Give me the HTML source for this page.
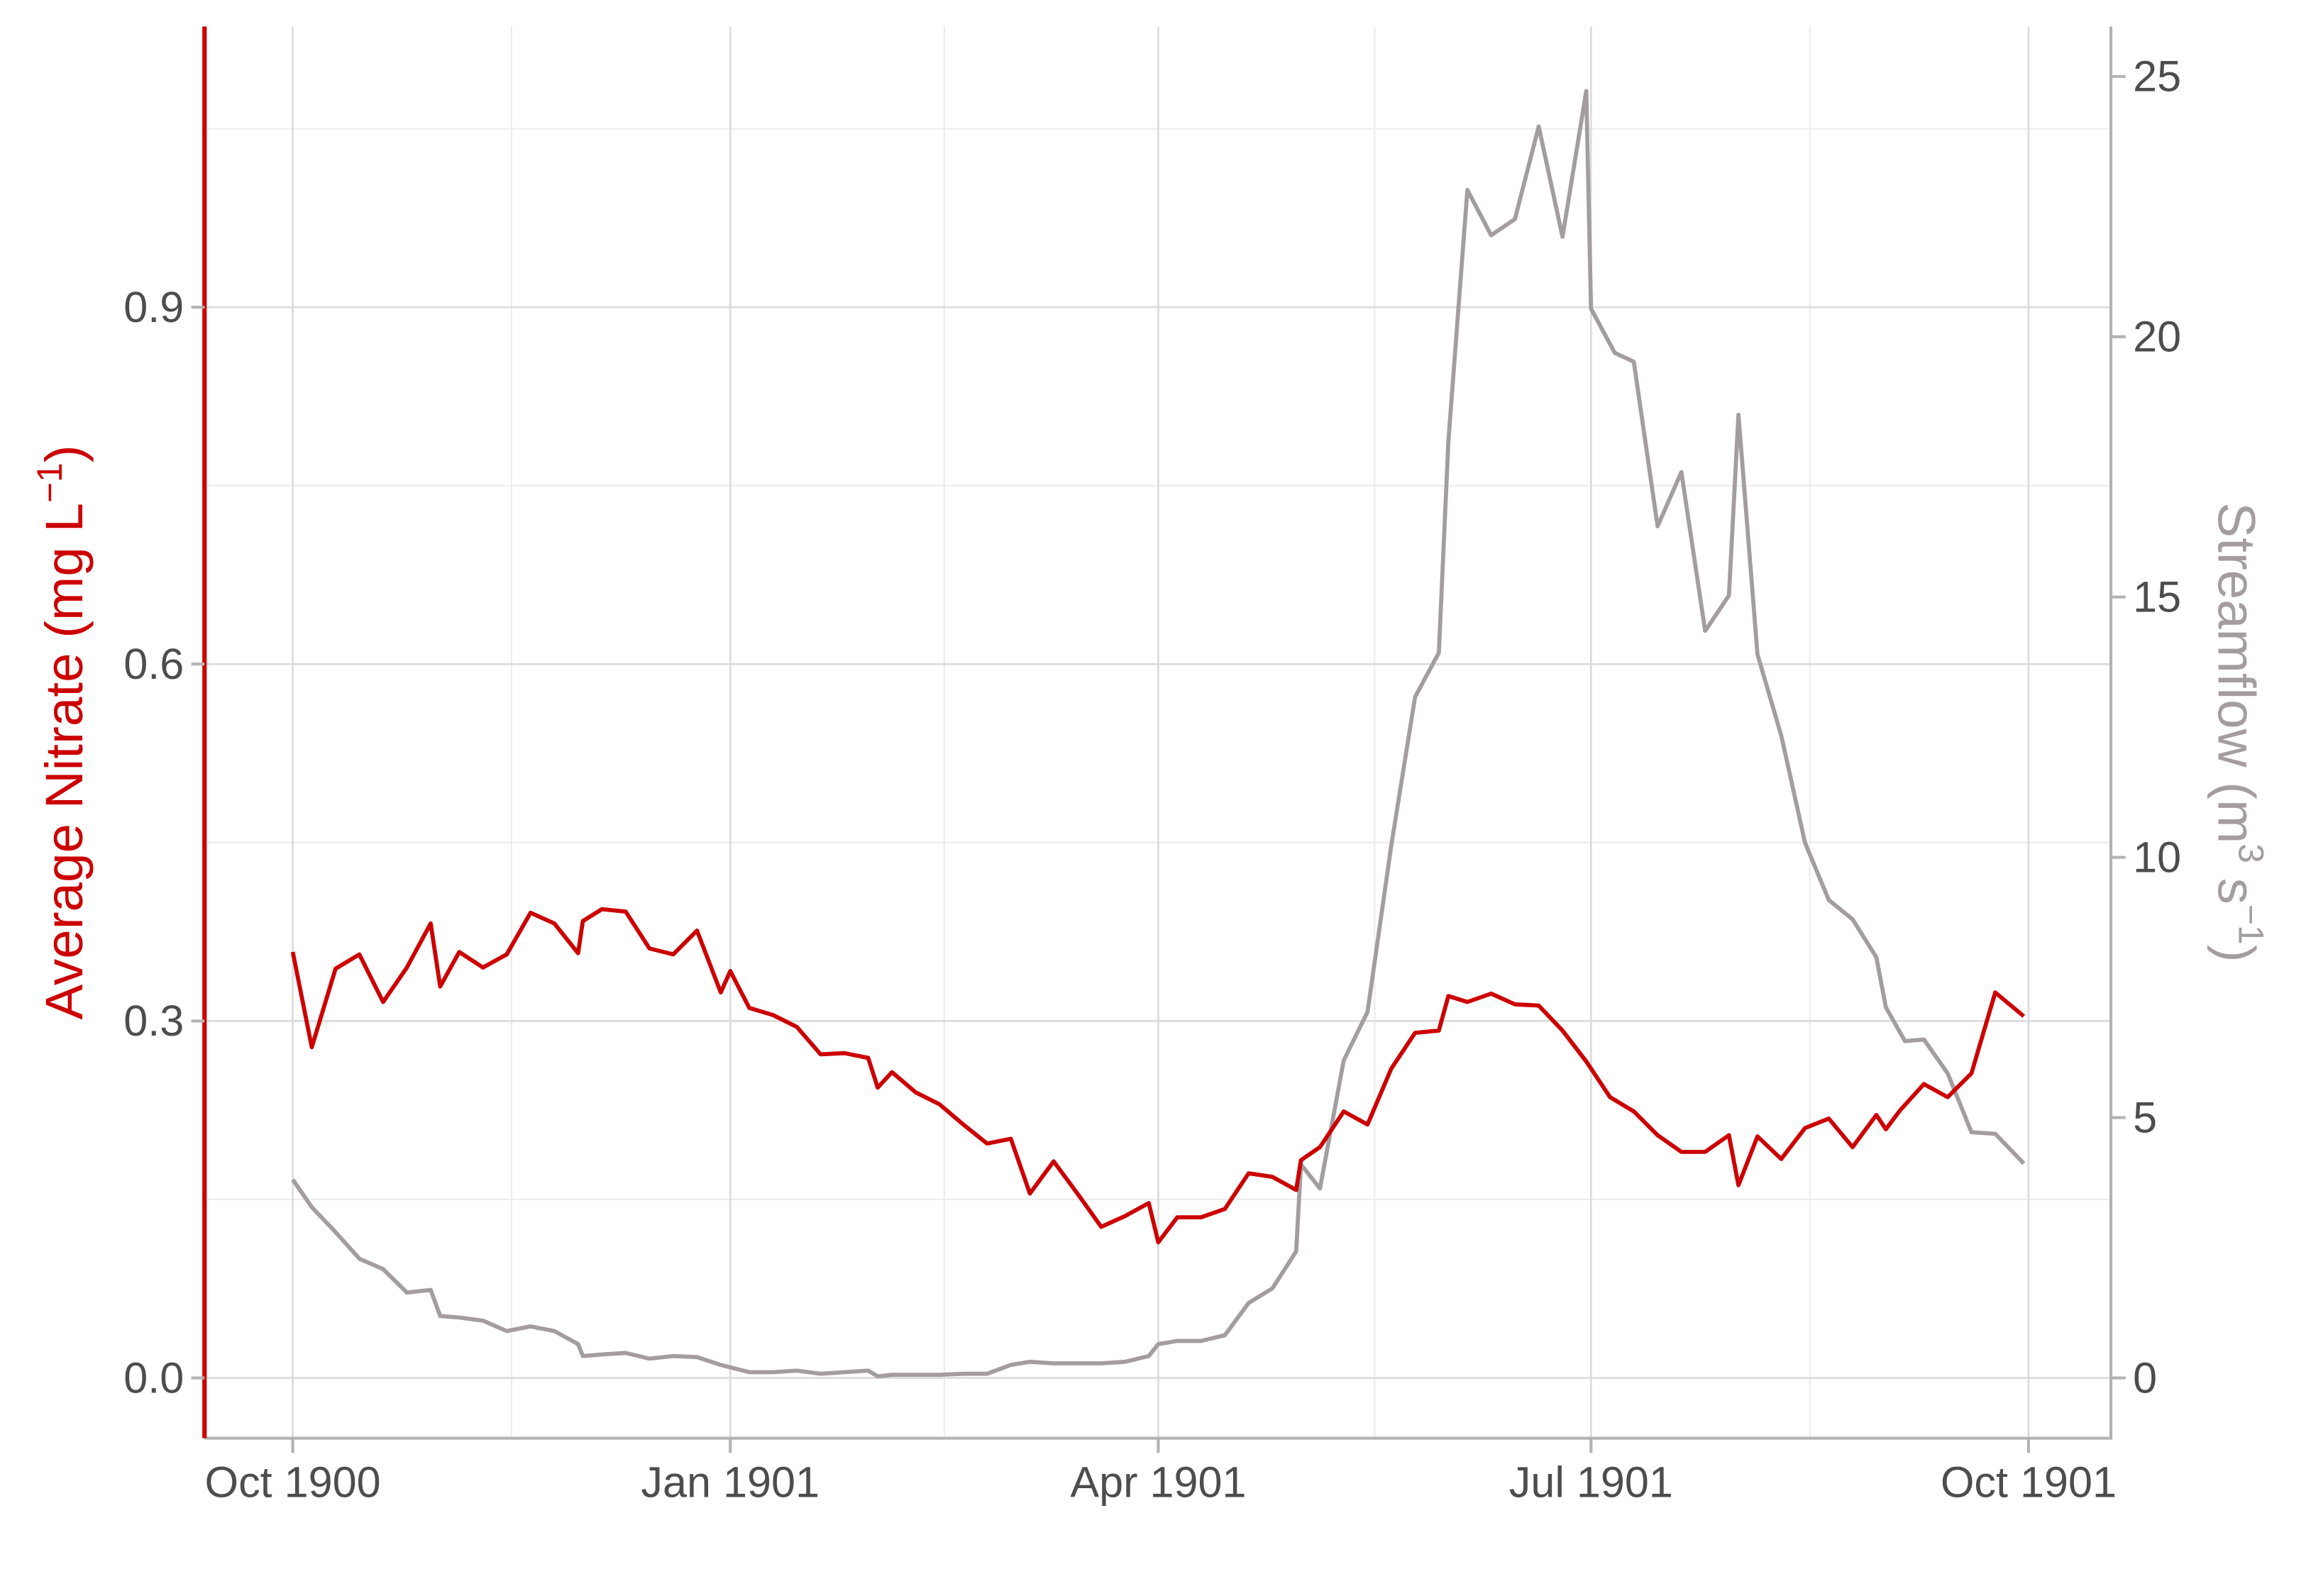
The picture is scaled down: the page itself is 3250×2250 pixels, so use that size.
<!DOCTYPE html>
<html><head><meta charset="utf-8"><style>
html,body{margin:0;padding:0;background:#fff;}
svg{display:block;}
text{font-family:"Liberation Sans",Arial,sans-serif;}
</style></head><body>
<svg id="chart" width="3250" height="2250" viewBox="0 0 1567.6 1085.3" xmlns="http://www.w3.org/2000/svg">
<rect width="1567.6" height="1085.3" fill="#fff"/>
<g id="grid"></g>
<g id="series"></g>
<g id="axes"></g>
</svg>
<script>
const nitrateDays=[0,4,9,14,19,24,29,31,35,40,45,50,55,60,61,65,70,75,80,85,90,92,96,101,106,111,116,121,123,126,131,136,141,146,151,155,160,165,170,175,180,182,186,191,196,201,206,211,212,216,221,226,231,236,241,243,247,252,257,262,267,272,277,282,287,292,297,302,304,308,313,318,323,328,333,335,338,343,348,353,358,364];
const nitrateValues=[0.358,0.278,0.344,0.356,0.316,0.345,0.382,0.329,0.358,0.345,0.356,0.391,0.382,0.357,0.384,0.394,0.392,0.361,0.356,0.376,0.324,0.342,0.311,0.305,0.295,0.272,0.273,0.269,0.244,0.257,0.240,0.230,0.213,0.197,0.201,0.155,0.182,0.155,0.127,0.136,0.147,0.114,0.135,0.135,0.142,0.172,0.169,0.158,0.183,0.194,0.224,0.213,0.260,0.290,0.292,0.321,0.316,0.323,0.314,0.313,0.292,0.266,0.236,0.224,0.204,0.190,0.190,0.204,0.162,0.203,0.184,0.210,0.218,0.194,0.221,0.209,0.225,0.247,0.236,0.256,0.324,0.304];
const flowDays=[0,4,9,14,19,24,29,31,35,40,45,50,55,60,61,65,70,75,80,85,90,96,101,106,111,116,121,123,126,131,136,141,146,151,155,160,165,170,175,180,182,186,191,196,201,206,211,212,216,221,226,231,236,241,243,247,252,257,262,267,272,273,278,282,287,292,297,302,304,308,313,318,323,328,333,335,339,343,348,353,358,364];
const flowValues=[3.81,3.28,2.80,2.29,2.09,1.64,1.69,1.19,1.16,1.10,0.90,0.99,0.90,0.65,0.42,0.45,0.48,0.37,0.42,0.40,0.25,0.11,0.11,0.14,0.08,0.11,0.14,0.03,0.06,0.06,0.06,0.08,0.08,0.25,0.31,0.28,0.28,0.28,0.31,0.42,0.65,0.71,0.71,0.82,1.44,1.72,2.43,4.10,3.64,6.10,7.03,10.23,13.08,13.93,17.99,22.82,21.95,22.26,24.04,21.92,24.72,20.54,19.69,19.52,16.36,17.40,14.35,15.03,18.50,13.90,12.34,10.28,9.18,8.81,8.08,7.12,6.47,6.50,5.85,4.72,4.69,4.12];
const xTickDays=[0,92,182,273,365];
const xTickLabels=["Oct 1900","Jan 1901","Apr 1901","Jul 1901","Oct 1901"];
const xMinorDays=[46,137,227.5,319];
const leftTicks=[0,0.3,0.6,0.9];
const leftTickLabels=["0.0","0.3","0.6","0.9"];
const leftMinor=[0.15,0.45,0.75,1.05];
const rightTicks=[0,5,10,15,20,25];
const rightTickLabels=["0","5","10","15","20","25"];

const NS="http://www.w3.org/2000/svg";
const L=139,R=1435,T=18,B=978;
const xS=d=>199+d*(1180/365);
const yL=v=>937-v*809;
const yR=v=>937-v*35.4;
function el(tag,attrs,parent){const e=document.createElementNS(NS,tag);for(const k in attrs)e.setAttribute(k,attrs[k]);parent.appendChild(e);return e;}
const grid=document.getElementById('grid'),series=document.getElementById('series'),axes=document.getElementById('axes');

leftMinor.forEach(v=>{const e=el('line',{x1:L,x2:R,y1:yL(v),y2:yL(v),stroke:'#ececec','stroke-width':1},grid);

});
xMinorDays.forEach(d=>{const e=el('line',{x1:xS(d),x2:xS(d),y1:T,y2:B,stroke:'#ececec','stroke-width':1},grid);

});
leftTicks.forEach(v=>{const e=el('line',{x1:L,x2:R,y1:yL(v),y2:yL(v),stroke:'#dcdcdc','stroke-width':1.3},grid);

});
xTickDays.forEach(d=>{const e=el('line',{x1:xS(d),x2:xS(d),y1:T,y2:B,stroke:'#dcdcdc','stroke-width':1.3},grid);

});

const fl=el('polyline',{points:flowDays.map((d,i)=>xS(d)+','+yR(flowValues[i])).join(' '),fill:'none',stroke:'#a39d9f','stroke-width':2.8,'stroke-linejoin':'round'},series);


const nl=el('polyline',{points:nitrateDays.map((d,i)=>xS(d)+','+yL(nitrateValues[i])).join(' '),fill:'none',stroke:'#cc0000','stroke-width':2.8,'stroke-linejoin':'round'},series);



let a=el('polyline',{points:`${L},${B} ${R},${B} ${R},${T}`,fill:'none',stroke:'#b3b3b3','stroke-width':2},axes);


a=el('line',{x1:L,x2:L,y1:T,y2:B,stroke:'#cc0000','stroke-width':3},axes);



xTickDays.forEach((d,i)=>{const t=el('line',{x1:xS(d),x2:xS(d),y1:B,y2:B+10,stroke:'#b3b3b3','stroke-width':2},axes);


const tx=el('text',{x:xS(d),y:1018,'font-size':29.5,fill:'#4d4d4d','text-anchor':'middle'},axes);tx.textContent=xTickLabels[i];

});
leftTicks.forEach((v,i)=>{const t=el('line',{x1:L-9,x2:L,y1:yL(v),y2:yL(v),stroke:'#b3b3b3','stroke-width':2},axes);


const tx=el('text',{x:L-14,y:yL(v)+10,'font-size':29.5,fill:'#4d4d4d','text-anchor':'end'},axes);tx.textContent=leftTickLabels[i];

});
rightTicks.forEach((v,i)=>{const t=el('line',{x1:R,x2:R+10,y1:yR(v),y2:yR(v),stroke:'#b3b3b3','stroke-width':2},axes);


const tx=el('text',{x:R+15,y:yR(v)+10,'font-size':29.5,fill:'#4d4d4d','text-anchor':'start'},axes);tx.textContent=rightTickLabels[i];

});
</script>
<svg style="position:absolute;left:0;top:0" width="3250" height="2250" viewBox="0 0 1567.6 1085.3" xmlns="http://www.w3.org/2000/svg">
<text transform="translate(56,498) rotate(-90)" text-anchor="middle" font-size="36" fill="#cc0000" font-family="Liberation Sans, sans-serif">Average Nitrate (mg L<tspan font-size="24" dy="-14">−1</tspan><tspan dy="14">)</tspan></text>
<text transform="translate(1508,498) rotate(90)" text-anchor="middle" font-size="36" fill="#a39d9f" font-family="Liberation Sans, sans-serif">Streamflow (m<tspan font-size="24" dy="-14">3</tspan><tspan dy="14"> s</tspan><tspan font-size="24" dy="-14">−1</tspan><tspan dy="14">)</tspan></text>
</svg>
</body></html>
